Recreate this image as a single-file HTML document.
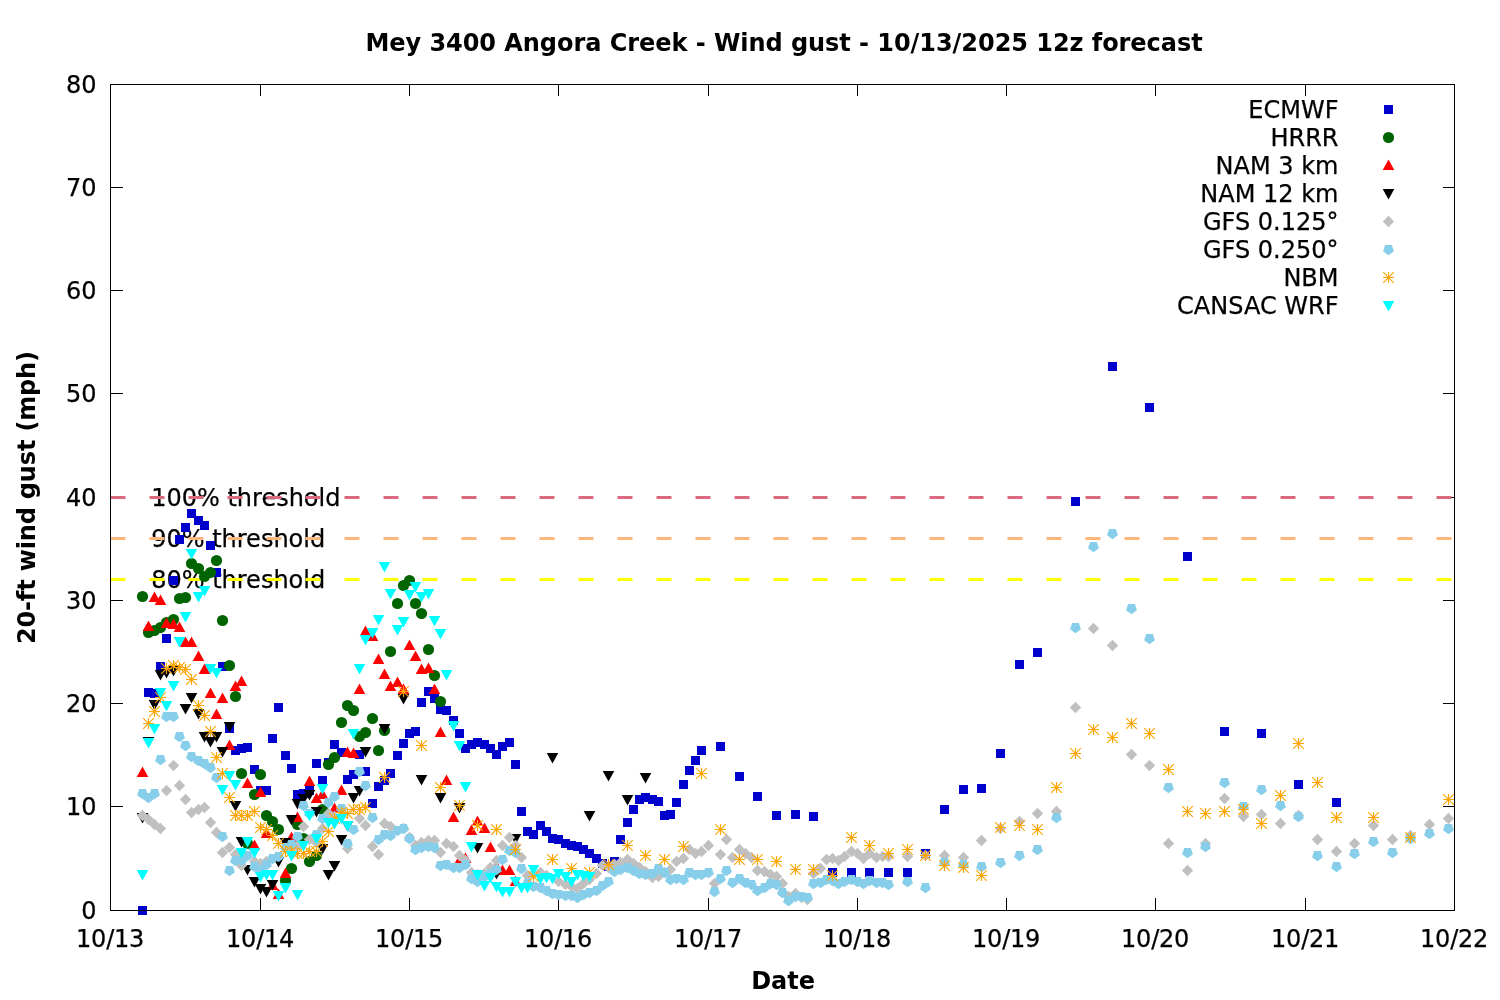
<!DOCTYPE html>
<html lang="en"><head><meta charset="utf-8"><title>Mey 3400 Angora Creek - Wind gust - 10/13/2025 12z forecast</title>
<style>html,body{margin:0;padding:0;background:#fff}body{width:1500px;height:1000px;overflow:hidden}svg{display:block}text{font-family:"DejaVu Sans","Liberation Sans",sans-serif;font-size:24px;fill:#000;stroke:#000;stroke-width:0.25px}.b{font-weight:bold;stroke:none}</style></head><body>
<svg width="1500" height="1000" viewBox="0 0 1500 1000">
<rect width="1500" height="1000" fill="#fff"/>
<text class="b" x="784" y="50.8" text-anchor="middle" letter-spacing="-0.05">Mey 3400 Angora Creek - Wind gust - 10/13/2025 12z forecast</text>
<text class="b" x="783.1" y="989" text-anchor="middle">Date</text>
<text class="b" transform="translate(35,497.6) rotate(-90)" text-anchor="middle" letter-spacing="-0.165">20-ft wind gust (mph)</text>
<text x="96.5" y="918.9" text-anchor="end">0</text>
<text x="96.5" y="814.9" text-anchor="end">10</text>
<text x="96.5" y="711.9" text-anchor="end">20</text>
<text x="96.5" y="608.9" text-anchor="end">30</text>
<text x="96.5" y="505.9" text-anchor="end">40</text>
<text x="96.5" y="401.9" text-anchor="end">50</text>
<text x="96.5" y="298.9" text-anchor="end">60</text>
<text x="96.5" y="195.9" text-anchor="end">70</text>
<text x="96.5" y="92.9" text-anchor="end">80</text>
<text x="110.1" y="947" text-anchor="middle" letter-spacing="-0.2">10/13</text>
<text x="260.1" y="947" text-anchor="middle" letter-spacing="-0.2">10/14</text>
<text x="409.1" y="947" text-anchor="middle" letter-spacing="-0.2">10/15</text>
<text x="558.1" y="947" text-anchor="middle" letter-spacing="-0.2">10/16</text>
<text x="708.1" y="947" text-anchor="middle" letter-spacing="-0.2">10/17</text>
<text x="857.1" y="947" text-anchor="middle" letter-spacing="-0.2">10/18</text>
<text x="1006.1" y="947" text-anchor="middle" letter-spacing="-0.2">10/19</text>
<text x="1155.1" y="947" text-anchor="middle" letter-spacing="-0.2">10/20</text>
<text x="1305.1" y="947" text-anchor="middle" letter-spacing="-0.2">10/21</text>
<text x="1454.1" y="947" text-anchor="middle" letter-spacing="-0.2">10/22</text>
<path d="M110.5 806.5h12.5M1454.5 806.5h-11.5M110.5 703.5h12.5M1454.5 703.5h-11.5M110.5 600.5h12.5M1454.5 600.5h-11.5M110.5 497.5h12.5M1454.5 497.5h-11.5M110.5 393.5h12.5M1454.5 393.5h-11.5M110.5 290.5h12.5M1454.5 290.5h-11.5M110.5 187.5h12.5M1454.5 187.5h-11.5M260.5 910.5v-12.5M260.5 84.5v11.5M409.5 910.5v-12.5M409.5 84.5v11.5M558.5 910.5v-12.5M558.5 84.5v11.5M708.5 910.5v-12.5M708.5 84.5v11.5M857.5 910.5v-12.5M857.5 84.5v11.5M1006.5 910.5v-12.5M1006.5 84.5v11.5M1155.5 910.5v-12.5M1155.5 84.5v11.5M1305.5 910.5v-12.5M1305.5 84.5v11.5" stroke="#000" stroke-width="1" fill="none"/>
<text x="151.2" y="505.5">100% threshold</text>
<text x="151.2" y="546.5">90% threshold</text>
<text x="151.2" y="587.5">80% threshold</text>
<path d="M110.5 497.5H1454.5" stroke="#db6a80" stroke-width="3" stroke-dasharray="15 24" fill="none"/>
<path d="M110.5 538.5H1454.5" stroke="#fdb77c" stroke-width="3" stroke-dasharray="15 24" fill="none"/>
<path d="M110.5 579.5H1454.5" stroke="#ffff00" stroke-width="3" stroke-dasharray="15 24" fill="none"/>
<g fill="#0000cd">
<rect x="138" y="906" width="9" height="9"/>
<rect x="144" y="688" width="9" height="9"/>
<rect x="150" y="689" width="9" height="9"/>
<rect x="156" y="662" width="9" height="9"/>
<rect x="162" y="634" width="9" height="9"/>
<rect x="169" y="576" width="9" height="9"/>
<rect x="175" y="535" width="9" height="9"/>
<rect x="181" y="523" width="9" height="9"/>
<rect x="187" y="509" width="9" height="9"/>
<rect x="194" y="516" width="9" height="9"/>
<rect x="200" y="521" width="9" height="9"/>
<rect x="206" y="541" width="9" height="9"/>
<rect x="212" y="568" width="9" height="9"/>
<rect x="218" y="662" width="9" height="9"/>
<rect x="225" y="724" width="9" height="9"/>
<rect x="231" y="746" width="9" height="9"/>
<rect x="237" y="744" width="9" height="9"/>
<rect x="243" y="743" width="9" height="9"/>
<rect x="250" y="765" width="9" height="9"/>
<rect x="256" y="786" width="9" height="9"/>
<rect x="262" y="786" width="9" height="9"/>
<rect x="268" y="734" width="9" height="9"/>
<rect x="274" y="703" width="9" height="9"/>
<rect x="281" y="751" width="9" height="9"/>
<rect x="287" y="764" width="9" height="9"/>
<rect x="293" y="790" width="9" height="9"/>
<rect x="299" y="789" width="9" height="9"/>
<rect x="305" y="786" width="9" height="9"/>
<rect x="312" y="759" width="9" height="9"/>
<rect x="318" y="776" width="9" height="9"/>
<rect x="324" y="758" width="9" height="9"/>
<rect x="330" y="740" width="9" height="9"/>
<rect x="337" y="748" width="9" height="9"/>
<rect x="343" y="775" width="9" height="9"/>
<rect x="349" y="770" width="9" height="9"/>
<rect x="355" y="750" width="9" height="9"/>
<rect x="361" y="767" width="9" height="9"/>
<rect x="368" y="799" width="9" height="9"/>
<rect x="374" y="782" width="9" height="9"/>
<rect x="380" y="776" width="9" height="9"/>
<rect x="386" y="769" width="9" height="9"/>
<rect x="393" y="751" width="9" height="9"/>
<rect x="399" y="739" width="9" height="9"/>
<rect x="405" y="729" width="9" height="9"/>
<rect x="411" y="727" width="9" height="9"/>
<rect x="417" y="698" width="9" height="9"/>
<rect x="424" y="687" width="9" height="9"/>
<rect x="430" y="694" width="9" height="9"/>
<rect x="436" y="705" width="9" height="9"/>
<rect x="442" y="706" width="9" height="9"/>
<rect x="449" y="716" width="9" height="9"/>
<rect x="455" y="729" width="9" height="9"/>
<rect x="461" y="744" width="9" height="9"/>
<rect x="467" y="740" width="9" height="9"/>
<rect x="473" y="738" width="9" height="9"/>
<rect x="480" y="740" width="9" height="9"/>
<rect x="486" y="744" width="9" height="9"/>
<rect x="492" y="750" width="9" height="9"/>
<rect x="498" y="742" width="9" height="9"/>
<rect x="505" y="738" width="9" height="9"/>
<rect x="511" y="760" width="9" height="9"/>
<rect x="517" y="807" width="9" height="9"/>
<rect x="523" y="827" width="9" height="9"/>
<rect x="529" y="830" width="9" height="9"/>
<rect x="536" y="821" width="9" height="9"/>
<rect x="542" y="827" width="9" height="9"/>
<rect x="548" y="834" width="9" height="9"/>
<rect x="554" y="835" width="9" height="9"/>
<rect x="561" y="839" width="9" height="9"/>
<rect x="567" y="841" width="9" height="9"/>
<rect x="573" y="842" width="9" height="9"/>
<rect x="579" y="845" width="9" height="9"/>
<rect x="585" y="849" width="9" height="9"/>
<rect x="592" y="854" width="9" height="9"/>
<rect x="598" y="859" width="9" height="9"/>
<rect x="604" y="862" width="9" height="9"/>
<rect x="610" y="857" width="9" height="9"/>
<rect x="616" y="835" width="9" height="9"/>
<rect x="623" y="818" width="9" height="9"/>
<rect x="629" y="805" width="9" height="9"/>
<rect x="635" y="795" width="9" height="9"/>
<rect x="641" y="793" width="9" height="9"/>
<rect x="648" y="795" width="9" height="9"/>
<rect x="654" y="797" width="9" height="9"/>
<rect x="660" y="811" width="9" height="9"/>
<rect x="666" y="810" width="9" height="9"/>
<rect x="672" y="798" width="9" height="9"/>
<rect x="679" y="780" width="9" height="9"/>
<rect x="685" y="766" width="9" height="9"/>
<rect x="691" y="756" width="9" height="9"/>
<rect x="697" y="746" width="9" height="9"/>
<rect x="716" y="742" width="9" height="9"/>
<rect x="735" y="772" width="9" height="9"/>
<rect x="753" y="792" width="9" height="9"/>
<rect x="772" y="811" width="9" height="9"/>
<rect x="791" y="810" width="9" height="9"/>
<rect x="809" y="812" width="9" height="9"/>
<rect x="828" y="868" width="9" height="9"/>
<rect x="847" y="868" width="9" height="9"/>
<rect x="865" y="868" width="9" height="9"/>
<rect x="884" y="868" width="9" height="9"/>
<rect x="903" y="868" width="9" height="9"/>
<rect x="921" y="849" width="9" height="9"/>
<rect x="940" y="805" width="9" height="9"/>
<rect x="959" y="785" width="9" height="9"/>
<rect x="977" y="784" width="9" height="9"/>
<rect x="996" y="749" width="9" height="9"/>
<rect x="1015" y="660" width="9" height="9"/>
<rect x="1033" y="648" width="9" height="9"/>
<rect x="1071" y="497" width="9" height="9"/>
<rect x="1108" y="362" width="9" height="9"/>
<rect x="1145" y="403" width="9" height="9"/>
<rect x="1183" y="552" width="9" height="9"/>
<rect x="1220" y="727" width="9" height="9"/>
<rect x="1257" y="729" width="9" height="9"/>
<rect x="1294" y="780" width="9" height="9"/>
<rect x="1332" y="798" width="9" height="9"/>
</g>
<g fill="#006400">
<circle cx="142.5" cy="596.5" r="5.6"/>
<circle cx="148.5" cy="632.5" r="5.6"/>
<circle cx="154.5" cy="630.5" r="5.6"/>
<circle cx="160.5" cy="627.5" r="5.6"/>
<circle cx="166.5" cy="622.5" r="5.6"/>
<circle cx="173.5" cy="619.5" r="5.6"/>
<circle cx="179.5" cy="598.5" r="5.6"/>
<circle cx="185.5" cy="597.5" r="5.6"/>
<circle cx="191.5" cy="563.5" r="5.6"/>
<circle cx="198.5" cy="568.5" r="5.6"/>
<circle cx="204.5" cy="576.5" r="5.6"/>
<circle cx="210.5" cy="572.5" r="5.6"/>
<circle cx="216.5" cy="560.5" r="5.6"/>
<circle cx="222.5" cy="620.5" r="5.6"/>
<circle cx="229.5" cy="665.5" r="5.6"/>
<circle cx="235.5" cy="696.5" r="5.6"/>
<circle cx="241.5" cy="773.5" r="5.6"/>
<circle cx="247.5" cy="843.5" r="5.6"/>
<circle cx="254.5" cy="794.5" r="5.6"/>
<circle cx="260.5" cy="774.5" r="5.6"/>
<circle cx="266.5" cy="815.5" r="5.6"/>
<circle cx="272.5" cy="821.5" r="5.6"/>
<circle cx="278.5" cy="829.5" r="5.6"/>
<circle cx="285.5" cy="880.5" r="5.6"/>
<circle cx="291.5" cy="868.5" r="5.6"/>
<circle cx="297.5" cy="824.5" r="5.6"/>
<circle cx="303.5" cy="838.5" r="5.6"/>
<circle cx="309.5" cy="861.5" r="5.6"/>
<circle cx="316.5" cy="855.5" r="5.6"/>
<circle cx="322.5" cy="809.5" r="5.6"/>
<circle cx="328.5" cy="764.5" r="5.6"/>
<circle cx="334.5" cy="757.5" r="5.6"/>
<circle cx="341.5" cy="722.5" r="5.6"/>
<circle cx="347.5" cy="705.5" r="5.6"/>
<circle cx="353.5" cy="710.5" r="5.6"/>
<circle cx="359.5" cy="736.5" r="5.6"/>
<circle cx="365.5" cy="732.5" r="5.6"/>
<circle cx="372.5" cy="718.5" r="5.6"/>
<circle cx="378.5" cy="750.5" r="5.6"/>
<circle cx="384.5" cy="730.5" r="5.6"/>
<circle cx="390.5" cy="651.5" r="5.6"/>
<circle cx="397.5" cy="603.5" r="5.6"/>
<circle cx="403.5" cy="585.5" r="5.6"/>
<circle cx="409.5" cy="580.5" r="5.6"/>
<circle cx="415.5" cy="603.5" r="5.6"/>
<circle cx="421.5" cy="613.5" r="5.6"/>
<circle cx="428.5" cy="649.5" r="5.6"/>
<circle cx="434.5" cy="675.5" r="5.6"/>
<circle cx="440.5" cy="701.5" r="5.6"/>
</g>
<g fill="#ff0000">
<path d="M136.7 777L142.5 766.5L148.3 777Z"/>
<path d="M142.7 631L148.5 620.5L154.3 631Z"/>
<path d="M148.7 602L154.5 591.5L160.3 602Z"/>
<path d="M154.7 605L160.5 594.5L166.3 605Z"/>
<path d="M160.7 628L166.5 617.5L172.3 628Z"/>
<path d="M167.7 629L173.5 618.5L179.3 629Z"/>
<path d="M173.7 632L179.5 621.5L185.3 632Z"/>
<path d="M179.7 647L185.5 636.5L191.3 647Z"/>
<path d="M185.7 647L191.5 636.5L197.3 647Z"/>
<path d="M192.7 661L198.5 650.5L204.3 661Z"/>
<path d="M198.7 674L204.5 663.5L210.3 674Z"/>
<path d="M204.7 698L210.5 687.5L216.3 698Z"/>
<path d="M210.7 719L216.5 708.5L222.3 719Z"/>
<path d="M216.7 703L222.5 692.5L228.3 703Z"/>
<path d="M223.7 750L229.5 739.5L235.3 750Z"/>
<path d="M229.7 691L235.5 680.5L241.3 691Z"/>
<path d="M235.7 686L241.5 675.5L247.3 686Z"/>
<path d="M241.7 788L247.5 777.5L253.3 788Z"/>
<path d="M248.7 850L254.5 839.5L260.3 850Z"/>
<path d="M254.7 797L260.5 786.5L266.3 797Z"/>
<path d="M260.7 838L266.5 827.5L272.3 838Z"/>
<path d="M266.7 890L272.5 879.5L278.3 890Z"/>
<path d="M272.7 899L278.5 888.5L284.3 899Z"/>
<path d="M279.7 878L285.5 867.5L291.3 878Z"/>
<path d="M285.7 842L291.5 831.5L297.3 842Z"/>
<path d="M291.7 822L297.5 811.5L303.3 822Z"/>
<path d="M303.7 786L309.5 775.5L315.3 786Z"/>
<path d="M310.7 803L316.5 792.5L322.3 803Z"/>
<path d="M316.7 799L322.5 788.5L328.3 799Z"/>
<path d="M322.7 820L328.5 809.5L334.3 820Z"/>
<path d="M328.7 813L334.5 802.5L340.3 813Z"/>
<path d="M335.7 795L341.5 784.5L347.3 795Z"/>
<path d="M341.7 757L347.5 746.5L353.3 757Z"/>
<path d="M347.7 758L353.5 747.5L359.3 758Z"/>
<path d="M353.7 694L359.5 683.5L365.3 694Z"/>
<path d="M359.7 636L365.5 625.5L371.3 636Z"/>
<path d="M366.7 641L372.5 630.5L378.3 641Z"/>
<path d="M372.7 664L378.5 653.5L384.3 664Z"/>
<path d="M378.7 679L384.5 668.5L390.3 679Z"/>
<path d="M384.7 691L390.5 680.5L396.3 691Z"/>
<path d="M391.7 687L397.5 676.5L403.3 687Z"/>
<path d="M397.7 694L403.5 683.5L409.3 694Z"/>
<path d="M403.7 650L409.5 639.5L415.3 650Z"/>
<path d="M409.7 661L415.5 650.5L421.3 661Z"/>
<path d="M415.7 674L421.5 663.5L427.3 674Z"/>
<path d="M422.7 673L428.5 662.5L434.3 673Z"/>
<path d="M428.7 694L434.5 683.5L440.3 694Z"/>
<path d="M434.7 737L440.5 726.5L446.3 737Z"/>
<path d="M440.7 785L446.5 774.5L452.3 785Z"/>
<path d="M447.7 822L453.5 811.5L459.3 822Z"/>
<path d="M453.7 865L459.5 854.5L465.3 865Z"/>
<path d="M459.7 863L465.5 852.5L471.3 863Z"/>
<path d="M465.7 835L471.5 824.5L477.3 835Z"/>
<path d="M471.7 826L477.5 815.5L483.3 826Z"/>
<path d="M478.7 833L484.5 822.5L490.3 833Z"/>
<path d="M484.7 852L490.5 841.5L496.3 852Z"/>
<path d="M490.7 871L496.5 860.5L502.3 871Z"/>
<path d="M496.7 875L502.5 864.5L508.3 875Z"/>
<path d="M503.7 875L509.5 864.5L515.3 875Z"/>
<path d="M509.7 886L515.5 875.5L521.3 886Z"/>
</g>
<g fill="#000000">
<path d="M136.7 813L142.5 823.5L148.3 813Z"/>
<path d="M142.7 737L148.5 747.5L154.3 737Z"/>
<path d="M148.7 700L154.5 710.5L160.3 700Z"/>
<path d="M154.7 670L160.5 680.5L166.3 670Z"/>
<path d="M160.7 668L166.5 678.5L172.3 668Z"/>
<path d="M167.7 666L173.5 676.5L179.3 666Z"/>
<path d="M179.7 704L185.5 714.5L191.3 704Z"/>
<path d="M185.7 693L191.5 703.5L197.3 693Z"/>
<path d="M192.7 709L198.5 719.5L204.3 709Z"/>
<path d="M198.7 732L204.5 742.5L210.3 732Z"/>
<path d="M204.7 737L210.5 747.5L216.3 737Z"/>
<path d="M210.7 732L216.5 742.5L222.3 732Z"/>
<path d="M216.7 747L222.5 757.5L228.3 747Z"/>
<path d="M223.7 722L229.5 732.5L235.3 722Z"/>
<path d="M229.7 801L235.5 811.5L241.3 801Z"/>
<path d="M235.7 837L241.5 847.5L247.3 837Z"/>
<path d="M241.7 865L247.5 875.5L253.3 865Z"/>
<path d="M248.7 877L254.5 887.5L260.3 877Z"/>
<path d="M254.7 884L260.5 894.5L266.3 884Z"/>
<path d="M260.7 887L266.5 897.5L272.3 887Z"/>
<path d="M266.7 880L272.5 890.5L278.3 880Z"/>
<path d="M272.7 857L278.5 867.5L284.3 857Z"/>
<path d="M279.7 838L285.5 848.5L291.3 838Z"/>
<path d="M285.7 815L291.5 825.5L297.3 815Z"/>
<path d="M291.7 799L297.5 809.5L303.3 799Z"/>
<path d="M297.7 794L303.5 804.5L309.3 794Z"/>
<path d="M303.7 790L309.5 800.5L315.3 790Z"/>
<path d="M310.7 807L316.5 817.5L322.3 807Z"/>
<path d="M316.7 844L322.5 854.5L328.3 844Z"/>
<path d="M322.7 870L328.5 880.5L334.3 870Z"/>
<path d="M328.7 861L334.5 871.5L340.3 861Z"/>
<path d="M335.7 835L341.5 845.5L347.3 835Z"/>
<path d="M341.7 821L347.5 831.5L353.3 821Z"/>
<path d="M347.7 793L353.5 803.5L359.3 793Z"/>
<path d="M353.7 786L359.5 796.5L365.3 786Z"/>
<path d="M359.7 747L365.5 757.5L371.3 747Z"/>
<path d="M378.7 724L384.5 734.5L390.3 724Z"/>
<path d="M397.7 694L403.5 704.5L409.3 694Z"/>
<path d="M415.7 775L421.5 785.5L427.3 775Z"/>
<path d="M434.7 793L440.5 803.5L446.3 793Z"/>
<path d="M453.7 803L459.5 813.5L465.3 803Z"/>
<path d="M471.7 843L477.5 853.5L483.3 843Z"/>
<path d="M490.7 869L496.5 879.5L502.3 869Z"/>
<path d="M509.7 834L515.5 844.5L521.3 834Z"/>
<path d="M546.7 753L552.5 763.5L558.3 753Z"/>
<path d="M583.7 811L589.5 821.5L595.3 811Z"/>
<path d="M602.7 771L608.5 781.5L614.3 771Z"/>
<path d="M621.7 795L627.5 805.5L633.3 795Z"/>
<path d="M639.7 773L645.5 783.5L651.3 773Z"/>
</g>
<g fill="#c0c0c0">
<path d="M136.85 815.5L142.5 809.85L148.15 815.5L142.5 821.15Z"/>
<path d="M142.85 819.5L148.5 813.85L154.15 819.5L148.5 825.15Z"/>
<path d="M148.85 824.5L154.5 818.85L160.15 824.5L154.5 830.15Z"/>
<path d="M154.85 828.5L160.5 822.85L166.15 828.5L160.5 834.15Z"/>
<path d="M160.85 790.5L166.5 784.85L172.15 790.5L166.5 796.15Z"/>
<path d="M167.85 765.5L173.5 759.85L179.15 765.5L173.5 771.15Z"/>
<path d="M173.85 785.5L179.5 779.85L185.15 785.5L179.5 791.15Z"/>
<path d="M179.85 799.5L185.5 793.85L191.15 799.5L185.5 805.15Z"/>
<path d="M185.85 812.5L191.5 806.85L197.15 812.5L191.5 818.15Z"/>
<path d="M192.85 809.5L198.5 803.85L204.15 809.5L198.5 815.15Z"/>
<path d="M198.85 807.5L204.5 801.85L210.15 807.5L204.5 813.15Z"/>
<path d="M204.85 822.5L210.5 816.85L216.15 822.5L210.5 828.15Z"/>
<path d="M210.85 832.5L216.5 826.85L222.15 832.5L216.5 838.15Z"/>
<path d="M216.85 852.5L222.5 846.85L228.15 852.5L222.5 858.15Z"/>
<path d="M223.85 847.5L229.5 841.85L235.15 847.5L229.5 853.15Z"/>
<path d="M229.85 854.5L235.5 848.85L241.15 854.5L235.5 860.15Z"/>
<path d="M235.85 865.5L241.5 859.85L247.15 865.5L241.5 871.15Z"/>
<path d="M248.85 861.5L254.5 855.85L260.15 861.5L254.5 867.15Z"/>
<path d="M254.85 863.5L260.5 857.85L266.15 863.5L260.5 869.15Z"/>
<path d="M260.85 861.5L266.5 855.85L272.15 861.5L266.5 867.15Z"/>
<path d="M291.85 846.5L297.5 840.85L303.15 846.5L297.5 852.15Z"/>
<path d="M297.85 826.5L303.5 820.85L309.15 826.5L303.5 832.15Z"/>
<path d="M303.85 839.5L309.5 833.85L315.15 839.5L309.5 845.15Z"/>
<path d="M310.85 842.5L316.5 836.85L322.15 842.5L316.5 848.15Z"/>
<path d="M316.85 828.5L322.5 822.85L328.15 828.5L322.5 834.15Z"/>
<path d="M322.85 813.5L328.5 807.85L334.15 813.5L328.5 819.15Z"/>
<path d="M328.85 816.5L334.5 810.85L340.15 816.5L334.5 822.15Z"/>
<path d="M341.85 848.5L347.5 842.85L353.15 848.5L347.5 854.15Z"/>
<path d="M353.85 818.5L359.5 812.85L365.15 818.5L359.5 824.15Z"/>
<path d="M359.85 825.5L365.5 819.85L371.15 825.5L365.5 831.15Z"/>
<path d="M366.85 846.5L372.5 840.85L378.15 846.5L372.5 852.15Z"/>
<path d="M372.85 854.5L378.5 848.85L384.15 854.5L378.5 860.15Z"/>
<path d="M378.85 823.5L384.5 817.85L390.15 823.5L384.5 829.15Z"/>
<path d="M384.85 826.5L390.5 820.85L396.15 826.5L390.5 832.15Z"/>
<path d="M397.85 828.5L403.5 822.85L409.15 828.5L403.5 834.15Z"/>
<path d="M403.85 837.5L409.5 831.85L415.15 837.5L409.5 843.15Z"/>
<path d="M409.85 845.5L415.5 839.85L421.15 845.5L415.5 851.15Z"/>
<path d="M415.85 842.5L421.5 836.85L427.15 842.5L421.5 848.15Z"/>
<path d="M422.85 840.5L428.5 834.85L434.15 840.5L428.5 846.15Z"/>
<path d="M428.85 840.5L434.5 834.85L440.15 840.5L434.5 846.15Z"/>
<path d="M434.85 852.5L440.5 846.85L446.15 852.5L440.5 858.15Z"/>
<path d="M440.85 843.5L446.5 837.85L452.15 843.5L446.5 849.15Z"/>
<path d="M447.85 846.5L453.5 840.85L459.15 846.5L453.5 852.15Z"/>
<path d="M453.85 855.5L459.5 849.85L465.15 855.5L459.5 861.15Z"/>
<path d="M459.85 860.5L465.5 854.85L471.15 860.5L465.5 866.15Z"/>
<path d="M465.85 872.5L471.5 866.85L477.15 872.5L471.5 878.15Z"/>
<path d="M471.85 874.5L477.5 868.85L483.15 874.5L477.5 880.15Z"/>
<path d="M478.85 873.5L484.5 867.85L490.15 873.5L484.5 879.15Z"/>
<path d="M484.85 867.5L490.5 861.85L496.15 867.5L490.5 873.15Z"/>
<path d="M490.85 860.5L496.5 854.85L502.15 860.5L496.5 866.15Z"/>
<path d="M496.85 845.5L502.5 839.85L508.15 845.5L502.5 851.15Z"/>
<path d="M503.85 837.5L509.5 831.85L515.15 837.5L509.5 843.15Z"/>
<path d="M509.85 845.5L515.5 839.85L521.15 845.5L515.5 851.15Z"/>
<path d="M515.85 857.5L521.5 851.85L527.15 857.5L521.5 863.15Z"/>
<path d="M521.85 875.5L527.5 869.85L533.15 875.5L527.5 881.15Z"/>
<path d="M527.85 873.5L533.5 867.85L539.15 873.5L533.5 879.15Z"/>
<path d="M534.85 872.5L540.5 866.85L546.15 872.5L540.5 878.15Z"/>
<path d="M540.85 875.5L546.5 869.85L552.15 875.5L546.5 881.15Z"/>
<path d="M552.85 881.5L558.5 875.85L564.15 881.5L558.5 887.15Z"/>
<path d="M559.85 884.5L565.5 878.85L571.15 884.5L565.5 890.15Z"/>
<path d="M565.85 886.5L571.5 880.85L577.15 886.5L571.5 892.15Z"/>
<path d="M571.85 888.5L577.5 882.85L583.15 888.5L577.5 894.15Z"/>
<path d="M577.85 883.5L583.5 877.85L589.15 883.5L583.5 889.15Z"/>
<path d="M583.85 879.5L589.5 873.85L595.15 879.5L589.5 885.15Z"/>
<path d="M590.85 873.5L596.5 867.85L602.15 873.5L596.5 879.15Z"/>
<path d="M596.85 865.5L602.5 859.85L608.15 865.5L602.5 871.15Z"/>
<path d="M602.85 867.5L608.5 861.85L614.15 867.5L608.5 873.15Z"/>
<path d="M608.85 864.5L614.5 858.85L620.15 864.5L614.5 870.15Z"/>
<path d="M614.85 862.5L620.5 856.85L626.15 862.5L620.5 868.15Z"/>
<path d="M621.85 859.5L627.5 853.85L633.15 859.5L627.5 865.15Z"/>
<path d="M627.85 863.5L633.5 857.85L639.15 863.5L633.5 869.15Z"/>
<path d="M633.85 867.5L639.5 861.85L645.15 867.5L639.5 873.15Z"/>
<path d="M639.85 871.5L645.5 865.85L651.15 871.5L645.5 877.15Z"/>
<path d="M646.85 877.5L652.5 871.85L658.15 877.5L652.5 883.15Z"/>
<path d="M652.85 876.5L658.5 870.85L664.15 876.5L658.5 882.15Z"/>
<path d="M658.85 872.5L664.5 866.85L670.15 872.5L664.5 878.15Z"/>
<path d="M664.85 869.5L670.5 863.85L676.15 869.5L670.5 875.15Z"/>
<path d="M670.85 861.5L676.5 855.85L682.15 861.5L676.5 867.15Z"/>
<path d="M677.85 858.5L683.5 852.85L689.15 858.5L683.5 864.15Z"/>
<path d="M683.85 849.5L689.5 843.85L695.15 849.5L689.5 855.15Z"/>
<path d="M689.85 853.5L695.5 847.85L701.15 853.5L695.5 859.15Z"/>
<path d="M695.85 851.5L701.5 845.85L707.15 851.5L701.5 857.15Z"/>
<path d="M702.85 845.5L708.5 839.85L714.15 845.5L708.5 851.15Z"/>
<path d="M708.85 883.5L714.5 877.85L720.15 883.5L714.5 889.15Z"/>
<path d="M714.85 854.5L720.5 848.85L726.15 854.5L720.5 860.15Z"/>
<path d="M720.85 839.5L726.5 833.85L732.15 839.5L726.5 845.15Z"/>
<path d="M726.85 857.5L732.5 851.85L738.15 857.5L732.5 863.15Z"/>
<path d="M733.85 849.5L739.5 843.85L745.15 849.5L739.5 855.15Z"/>
<path d="M739.85 853.5L745.5 847.85L751.15 853.5L745.5 859.15Z"/>
<path d="M745.85 857.5L751.5 851.85L757.15 857.5L751.5 863.15Z"/>
<path d="M751.85 870.5L757.5 864.85L763.15 870.5L757.5 876.15Z"/>
<path d="M758.85 871.5L764.5 865.85L770.15 871.5L764.5 877.15Z"/>
<path d="M764.85 874.5L770.5 868.85L776.15 874.5L770.5 880.15Z"/>
<path d="M770.85 876.5L776.5 870.85L782.15 876.5L776.5 882.15Z"/>
<path d="M776.85 883.5L782.5 877.85L788.15 883.5L782.5 889.15Z"/>
<path d="M782.85 896.5L788.5 890.85L794.15 896.5L788.5 902.15Z"/>
<path d="M789.85 893.5L795.5 887.85L801.15 893.5L795.5 899.15Z"/>
<path d="M795.85 897.5L801.5 891.85L807.15 897.5L801.5 903.15Z"/>
<path d="M801.85 899.5L807.5 893.85L813.15 899.5L807.5 905.15Z"/>
<path d="M807.85 873.5L813.5 867.85L819.15 873.5L813.5 879.15Z"/>
<path d="M814.85 868.5L820.5 862.85L826.15 868.5L820.5 874.15Z"/>
<path d="M820.85 859.5L826.5 853.85L832.15 859.5L826.5 865.15Z"/>
<path d="M826.85 858.5L832.5 852.85L838.15 858.5L832.5 864.15Z"/>
<path d="M832.85 860.5L838.5 854.85L844.15 860.5L838.5 866.15Z"/>
<path d="M838.85 856.5L844.5 850.85L850.15 856.5L844.5 862.15Z"/>
<path d="M845.85 851.5L851.5 845.85L857.15 851.5L851.5 857.15Z"/>
<path d="M851.85 853.5L857.5 847.85L863.15 853.5L857.5 859.15Z"/>
<path d="M857.85 858.5L863.5 852.85L869.15 858.5L863.5 864.15Z"/>
<path d="M863.85 853.5L869.5 847.85L875.15 853.5L869.5 859.15Z"/>
<path d="M870.85 857.5L876.5 851.85L882.15 857.5L876.5 863.15Z"/>
<path d="M876.85 856.5L882.5 850.85L888.15 856.5L882.5 862.15Z"/>
<path d="M882.85 856.5L888.5 850.85L894.15 856.5L888.5 862.15Z"/>
<path d="M901.85 856.5L907.5 850.85L913.15 856.5L907.5 862.15Z"/>
<path d="M919.85 855.5L925.5 849.85L931.15 855.5L925.5 861.15Z"/>
<path d="M938.85 855.5L944.5 849.85L950.15 855.5L944.5 861.15Z"/>
<path d="M957.85 857.5L963.5 851.85L969.15 857.5L963.5 863.15Z"/>
<path d="M975.85 840.5L981.5 834.85L987.15 840.5L981.5 846.15Z"/>
<path d="M994.85 828.5L1000.5 822.85L1006.15 828.5L1000.5 834.15Z"/>
<path d="M1013.85 821.5L1019.5 815.85L1025.15 821.5L1019.5 827.15Z"/>
<path d="M1031.85 813.5L1037.5 807.85L1043.15 813.5L1037.5 819.15Z"/>
<path d="M1050.85 811.5L1056.5 805.85L1062.15 811.5L1056.5 817.15Z"/>
<path d="M1069.85 707.5L1075.5 701.85L1081.15 707.5L1075.5 713.15Z"/>
<path d="M1087.85 628.5L1093.5 622.85L1099.15 628.5L1093.5 634.15Z"/>
<path d="M1106.85 645.5L1112.5 639.85L1118.15 645.5L1112.5 651.15Z"/>
<path d="M1125.85 754.5L1131.5 748.85L1137.15 754.5L1131.5 760.15Z"/>
<path d="M1143.85 765.5L1149.5 759.85L1155.15 765.5L1149.5 771.15Z"/>
<path d="M1162.85 843.5L1168.5 837.85L1174.15 843.5L1168.5 849.15Z"/>
<path d="M1181.85 870.5L1187.5 864.85L1193.15 870.5L1187.5 876.15Z"/>
<path d="M1199.85 843.5L1205.5 837.85L1211.15 843.5L1205.5 849.15Z"/>
<path d="M1218.85 798.5L1224.5 792.85L1230.15 798.5L1224.5 804.15Z"/>
<path d="M1237.85 816.5L1243.5 810.85L1249.15 816.5L1243.5 822.15Z"/>
<path d="M1255.85 814.5L1261.5 808.85L1267.15 814.5L1261.5 820.15Z"/>
<path d="M1274.85 823.5L1280.5 817.85L1286.15 823.5L1280.5 829.15Z"/>
<path d="M1292.85 815.5L1298.5 809.85L1304.15 815.5L1298.5 821.15Z"/>
<path d="M1311.85 839.5L1317.5 833.85L1323.15 839.5L1317.5 845.15Z"/>
<path d="M1330.85 851.5L1336.5 845.85L1342.15 851.5L1336.5 857.15Z"/>
<path d="M1348.85 843.5L1354.5 837.85L1360.15 843.5L1354.5 849.15Z"/>
<path d="M1367.85 825.5L1373.5 819.85L1379.15 825.5L1373.5 831.15Z"/>
<path d="M1386.85 839.5L1392.5 833.85L1398.15 839.5L1392.5 845.15Z"/>
<path d="M1404.85 835.5L1410.5 829.85L1416.15 835.5L1410.5 841.15Z"/>
<path d="M1423.85 824.5L1429.5 818.85L1435.15 824.5L1429.5 830.15Z"/>
<path d="M1442.85 818.5L1448.5 812.85L1454.15 818.5L1448.5 824.15Z"/>
</g>
<g fill="#87ceeb">
<path d="M142.5 799.2L137.08 795.26L139.15 788.89L145.85 788.89L147.92 795.26Z"/>
<path d="M148.5 803.2L143.08 799.26L145.15 792.89L151.85 792.89L153.92 799.26Z"/>
<path d="M154.5 799.2L149.08 795.26L151.15 788.89L157.85 788.89L159.92 795.26Z"/>
<path d="M160.5 765.2L155.08 761.26L157.15 754.89L163.85 754.89L165.92 761.26Z"/>
<path d="M166.5 722.2L161.08 718.26L163.15 711.89L169.85 711.89L171.92 718.26Z"/>
<path d="M173.5 722.2L168.08 718.26L170.15 711.89L176.85 711.89L178.92 718.26Z"/>
<path d="M179.5 742.2L174.08 738.26L176.15 731.89L182.85 731.89L184.92 738.26Z"/>
<path d="M185.5 751.2L180.08 747.26L182.15 740.89L188.85 740.89L190.92 747.26Z"/>
<path d="M191.5 762.2L186.08 758.26L188.15 751.89L194.85 751.89L196.92 758.26Z"/>
<path d="M198.5 766.2L193.08 762.26L195.15 755.89L201.85 755.89L203.92 762.26Z"/>
<path d="M204.5 769.2L199.08 765.26L201.15 758.89L207.85 758.89L209.92 765.26Z"/>
<path d="M210.5 773.2L205.08 769.26L207.15 762.89L213.85 762.89L215.92 769.26Z"/>
<path d="M216.5 783.2L211.08 779.26L213.15 772.89L219.85 772.89L221.92 779.26Z"/>
<path d="M222.5 842.2L217.08 838.26L219.15 831.89L225.85 831.89L227.92 838.26Z"/>
<path d="M229.5 876.2L224.08 872.26L226.15 865.89L232.85 865.89L234.92 872.26Z"/>
<path d="M235.5 866.2L230.08 862.26L232.15 855.89L238.85 855.89L240.92 862.26Z"/>
<path d="M241.5 866.2L236.08 862.26L238.15 855.89L244.85 855.89L246.92 862.26Z"/>
<path d="M247.5 861.2L242.08 857.26L244.15 850.89L250.85 850.89L252.92 857.26Z"/>
<path d="M254.5 872.2L249.08 868.26L251.15 861.89L257.85 861.89L259.92 868.26Z"/>
<path d="M260.5 875.2L255.08 871.26L257.15 864.89L263.85 864.89L265.92 871.26Z"/>
<path d="M266.5 870.2L261.08 866.26L263.15 859.89L269.85 859.89L271.92 866.26Z"/>
<path d="M272.5 864.2L267.08 860.26L269.15 853.89L275.85 853.89L277.92 860.26Z"/>
<path d="M278.5 862.2L273.08 858.26L275.15 851.89L281.85 851.89L283.92 858.26Z"/>
<path d="M285.5 853.2L280.08 849.26L282.15 842.89L288.85 842.89L290.92 849.26Z"/>
<path d="M291.5 850.2L286.08 846.26L288.15 839.89L294.85 839.89L296.92 846.26Z"/>
<path d="M297.5 842.2L292.08 838.26L294.15 831.89L300.85 831.89L302.92 838.26Z"/>
<path d="M303.5 811.2L298.08 807.26L300.15 800.89L306.85 800.89L308.92 807.26Z"/>
<path d="M309.5 819.2L304.08 815.26L306.15 808.89L312.85 808.89L314.92 815.26Z"/>
<path d="M316.5 840.2L311.08 836.26L313.15 829.89L319.85 829.89L321.92 836.26Z"/>
<path d="M322.5 824.2L317.08 820.26L319.15 813.89L325.85 813.89L327.92 820.26Z"/>
<path d="M328.5 808.2L323.08 804.26L325.15 797.89L331.85 797.89L333.92 804.26Z"/>
<path d="M334.5 802.2L329.08 798.26L331.15 791.89L337.85 791.89L339.92 798.26Z"/>
<path d="M341.5 814.2L336.08 810.26L338.15 803.89L344.85 803.89L346.92 810.26Z"/>
<path d="M347.5 849.2L342.08 845.26L344.15 838.89L350.85 838.89L352.92 845.26Z"/>
<path d="M353.5 835.2L348.08 831.26L350.15 824.89L356.85 824.89L358.92 831.26Z"/>
<path d="M359.5 777.2L354.08 773.26L356.15 766.89L362.85 766.89L364.92 773.26Z"/>
<path d="M365.5 791.2L360.08 787.26L362.15 780.89L368.85 780.89L370.92 787.26Z"/>
<path d="M372.5 823.2L367.08 819.26L369.15 812.89L375.85 812.89L377.92 819.26Z"/>
<path d="M378.5 845.2L373.08 841.26L375.15 834.89L381.85 834.89L383.92 841.26Z"/>
<path d="M384.5 840.2L379.08 836.26L381.15 829.89L387.85 829.89L389.92 836.26Z"/>
<path d="M390.5 841.2L385.08 837.26L387.15 830.89L393.85 830.89L395.92 837.26Z"/>
<path d="M397.5 836.2L392.08 832.26L394.15 825.89L400.85 825.89L402.92 832.26Z"/>
<path d="M403.5 834.2L398.08 830.26L400.15 823.89L406.85 823.89L408.92 830.26Z"/>
<path d="M409.5 844.2L404.08 840.26L406.15 833.89L412.85 833.89L414.92 840.26Z"/>
<path d="M415.5 855.2L410.08 851.26L412.15 844.89L418.85 844.89L420.92 851.26Z"/>
<path d="M421.5 853.2L416.08 849.26L418.15 842.89L424.85 842.89L426.92 849.26Z"/>
<path d="M428.5 852.2L423.08 848.26L425.15 841.89L431.85 841.89L433.92 848.26Z"/>
<path d="M434.5 853.2L429.08 849.26L431.15 842.89L437.85 842.89L439.92 849.26Z"/>
<path d="M440.5 871.2L435.08 867.26L437.15 860.89L443.85 860.89L445.92 867.26Z"/>
<path d="M446.5 870.2L441.08 866.26L443.15 859.89L449.85 859.89L451.92 866.26Z"/>
<path d="M453.5 873.2L448.08 869.26L450.15 862.89L456.85 862.89L458.92 869.26Z"/>
<path d="M459.5 873.2L454.08 869.26L456.15 862.89L462.85 862.89L464.92 869.26Z"/>
<path d="M465.5 870.2L460.08 866.26L462.15 859.89L468.85 859.89L470.92 866.26Z"/>
<path d="M471.5 884.2L466.08 880.26L468.15 873.89L474.85 873.89L476.92 880.26Z"/>
<path d="M477.5 887.2L472.08 883.26L474.15 876.89L480.85 876.89L482.92 883.26Z"/>
<path d="M484.5 882.2L479.08 878.26L481.15 871.89L487.85 871.89L489.92 878.26Z"/>
<path d="M490.5 879.2L485.08 875.26L487.15 868.89L493.85 868.89L495.92 875.26Z"/>
<path d="M496.5 875.2L491.08 871.26L493.15 864.89L499.85 864.89L501.92 871.26Z"/>
<path d="M502.5 865.2L497.08 861.26L499.15 854.89L505.85 854.89L507.92 861.26Z"/>
<path d="M509.5 856.2L504.08 852.26L506.15 845.89L512.85 845.89L514.92 852.26Z"/>
<path d="M515.5 858.2L510.08 854.26L512.15 847.89L518.85 847.89L520.92 854.26Z"/>
<path d="M521.5 874.2L516.08 870.26L518.15 863.89L524.85 863.89L526.92 870.26Z"/>
<path d="M527.5 889.2L522.08 885.26L524.15 878.89L530.85 878.89L532.92 885.26Z"/>
<path d="M533.5 892.2L528.08 888.26L530.15 881.89L536.85 881.89L538.92 888.26Z"/>
<path d="M540.5 893.2L535.08 889.26L537.15 882.89L543.85 882.89L545.92 889.26Z"/>
<path d="M546.5 896.2L541.08 892.26L543.15 885.89L549.85 885.89L551.92 892.26Z"/>
<path d="M552.5 899.2L547.08 895.26L549.15 888.89L555.85 888.89L557.92 895.26Z"/>
<path d="M558.5 900.2L553.08 896.26L555.15 889.89L561.85 889.89L563.92 896.26Z"/>
<path d="M565.5 901.2L560.08 897.26L562.15 890.89L568.85 890.89L570.92 897.26Z"/>
<path d="M571.5 901.2L566.08 897.26L568.15 890.89L574.85 890.89L576.92 897.26Z"/>
<path d="M577.5 903.2L572.08 899.26L574.15 892.89L580.85 892.89L582.92 899.26Z"/>
<path d="M583.5 900.2L578.08 896.26L580.15 889.89L586.85 889.89L588.92 896.26Z"/>
<path d="M589.5 898.2L584.08 894.26L586.15 887.89L592.85 887.89L594.92 894.26Z"/>
<path d="M596.5 896.2L591.08 892.26L593.15 885.89L599.85 885.89L601.92 892.26Z"/>
<path d="M602.5 891.2L597.08 887.26L599.15 880.89L605.85 880.89L607.92 887.26Z"/>
<path d="M608.5 887.2L603.08 883.26L605.15 876.89L611.85 876.89L613.92 883.26Z"/>
<path d="M614.5 877.2L609.08 873.26L611.15 866.89L617.85 866.89L619.92 873.26Z"/>
<path d="M620.5 875.2L615.08 871.26L617.15 864.89L623.85 864.89L625.92 871.26Z"/>
<path d="M627.5 873.2L622.08 869.26L624.15 862.89L630.85 862.89L632.92 869.26Z"/>
<path d="M633.5 876.2L628.08 872.26L630.15 865.89L636.85 865.89L638.92 872.26Z"/>
<path d="M639.5 879.2L634.08 875.26L636.15 868.89L642.85 868.89L644.92 875.26Z"/>
<path d="M645.5 880.2L640.08 876.26L642.15 869.89L648.85 869.89L650.92 876.26Z"/>
<path d="M652.5 879.2L647.08 875.26L649.15 868.89L655.85 868.89L657.92 875.26Z"/>
<path d="M658.5 874.2L653.08 870.26L655.15 863.89L661.85 863.89L663.92 870.26Z"/>
<path d="M664.5 878.2L659.08 874.26L661.15 867.89L667.85 867.89L669.92 874.26Z"/>
<path d="M670.5 885.2L665.08 881.26L667.15 874.89L673.85 874.89L675.92 881.26Z"/>
<path d="M676.5 884.2L671.08 880.26L673.15 873.89L679.85 873.89L681.92 880.26Z"/>
<path d="M683.5 885.2L678.08 881.26L680.15 874.89L686.85 874.89L688.92 881.26Z"/>
<path d="M689.5 878.2L684.08 874.26L686.15 867.89L692.85 867.89L694.92 874.26Z"/>
<path d="M695.5 880.2L690.08 876.26L692.15 869.89L698.85 869.89L700.92 876.26Z"/>
<path d="M701.5 880.2L696.08 876.26L698.15 869.89L704.85 869.89L706.92 876.26Z"/>
<path d="M708.5 878.2L703.08 874.26L705.15 867.89L711.85 867.89L713.92 874.26Z"/>
<path d="M714.5 897.2L709.08 893.26L711.15 886.89L717.85 886.89L719.92 893.26Z"/>
<path d="M720.5 884.2L715.08 880.26L717.15 873.89L723.85 873.89L725.92 880.26Z"/>
<path d="M726.5 876.2L721.08 872.26L723.15 865.89L729.85 865.89L731.92 872.26Z"/>
<path d="M732.5 888.2L727.08 884.26L729.15 877.89L735.85 877.89L737.92 884.26Z"/>
<path d="M739.5 884.2L734.08 880.26L736.15 873.89L742.85 873.89L744.92 880.26Z"/>
<path d="M745.5 888.2L740.08 884.26L742.15 877.89L748.85 877.89L750.92 884.26Z"/>
<path d="M751.5 890.2L746.08 886.26L748.15 879.89L754.85 879.89L756.92 886.26Z"/>
<path d="M757.5 896.2L752.08 892.26L754.15 885.89L760.85 885.89L762.92 892.26Z"/>
<path d="M764.5 893.2L759.08 889.26L761.15 882.89L767.85 882.89L769.92 889.26Z"/>
<path d="M770.5 889.2L765.08 885.26L767.15 878.89L773.85 878.89L775.92 885.26Z"/>
<path d="M776.5 890.2L771.08 886.26L773.15 879.89L779.85 879.89L781.92 886.26Z"/>
<path d="M782.5 898.2L777.08 894.26L779.15 887.89L785.85 887.89L787.92 894.26Z"/>
<path d="M788.5 906.2L783.08 902.26L785.15 895.89L791.85 895.89L793.92 902.26Z"/>
<path d="M795.5 902.2L790.08 898.26L792.15 891.89L798.85 891.89L800.92 898.26Z"/>
<path d="M801.5 902.2L796.08 898.26L798.15 891.89L804.85 891.89L806.92 898.26Z"/>
<path d="M807.5 903.2L802.08 899.26L804.15 892.89L810.85 892.89L812.92 899.26Z"/>
<path d="M813.5 889.2L808.08 885.26L810.15 878.89L816.85 878.89L818.92 885.26Z"/>
<path d="M820.5 888.2L815.08 884.26L817.15 877.89L823.85 877.89L825.92 884.26Z"/>
<path d="M826.5 885.2L821.08 881.26L823.15 874.89L829.85 874.89L831.92 881.26Z"/>
<path d="M832.5 886.2L827.08 882.26L829.15 875.89L835.85 875.89L837.92 882.26Z"/>
<path d="M838.5 889.2L833.08 885.26L835.15 878.89L841.85 878.89L843.92 885.26Z"/>
<path d="M844.5 887.2L839.08 883.26L841.15 876.89L847.85 876.89L849.92 883.26Z"/>
<path d="M851.5 885.2L846.08 881.26L848.15 874.89L854.85 874.89L856.92 881.26Z"/>
<path d="M857.5 887.2L852.08 883.26L854.15 876.89L860.85 876.89L862.92 883.26Z"/>
<path d="M863.5 889.2L858.08 885.26L860.15 878.89L866.85 878.89L868.92 885.26Z"/>
<path d="M869.5 886.2L864.08 882.26L866.15 875.89L872.85 875.89L874.92 882.26Z"/>
<path d="M876.5 888.2L871.08 884.26L873.15 877.89L879.85 877.89L881.92 884.26Z"/>
<path d="M882.5 888.2L877.08 884.26L879.15 877.89L885.85 877.89L887.92 884.26Z"/>
<path d="M888.5 890.2L883.08 886.26L885.15 879.89L891.85 879.89L893.92 886.26Z"/>
<path d="M907.5 887.2L902.08 883.26L904.15 876.89L910.85 876.89L912.92 883.26Z"/>
<path d="M925.5 893.2L920.08 889.26L922.15 882.89L928.85 882.89L930.92 889.26Z"/>
<path d="M944.5 868.2L939.08 864.26L941.15 857.89L947.85 857.89L949.92 864.26Z"/>
<path d="M963.5 870.2L958.08 866.26L960.15 859.89L966.85 859.89L968.92 866.26Z"/>
<path d="M981.5 872.2L976.08 868.26L978.15 861.89L984.85 861.89L986.92 868.26Z"/>
<path d="M1000.5 868.2L995.08 864.26L997.15 857.89L1003.85 857.89L1005.92 864.26Z"/>
<path d="M1019.5 861.2L1014.08 857.26L1016.15 850.89L1022.85 850.89L1024.92 857.26Z"/>
<path d="M1037.5 855.2L1032.08 851.26L1034.15 844.89L1040.85 844.89L1042.92 851.26Z"/>
<path d="M1056.5 823.2L1051.08 819.26L1053.15 812.89L1059.85 812.89L1061.92 819.26Z"/>
<path d="M1075.5 633.2L1070.08 629.26L1072.15 622.89L1078.85 622.89L1080.92 629.26Z"/>
<path d="M1093.5 552.2L1088.08 548.26L1090.15 541.89L1096.85 541.89L1098.92 548.26Z"/>
<path d="M1112.5 539.2L1107.08 535.26L1109.15 528.89L1115.85 528.89L1117.92 535.26Z"/>
<path d="M1131.5 614.2L1126.08 610.26L1128.15 603.89L1134.85 603.89L1136.92 610.26Z"/>
<path d="M1149.5 644.2L1144.08 640.26L1146.15 633.89L1152.85 633.89L1154.92 640.26Z"/>
<path d="M1168.5 793.2L1163.08 789.26L1165.15 782.89L1171.85 782.89L1173.92 789.26Z"/>
<path d="M1187.5 858.2L1182.08 854.26L1184.15 847.89L1190.85 847.89L1192.92 854.26Z"/>
<path d="M1205.5 852.2L1200.08 848.26L1202.15 841.89L1208.85 841.89L1210.92 848.26Z"/>
<path d="M1224.5 788.2L1219.08 784.26L1221.15 777.89L1227.85 777.89L1229.92 784.26Z"/>
<path d="M1243.5 812.2L1238.08 808.26L1240.15 801.89L1246.85 801.89L1248.92 808.26Z"/>
<path d="M1261.5 795.2L1256.08 791.26L1258.15 784.89L1264.85 784.89L1266.92 791.26Z"/>
<path d="M1280.5 811.2L1275.08 807.26L1277.15 800.89L1283.85 800.89L1285.92 807.26Z"/>
<path d="M1298.5 822.2L1293.08 818.26L1295.15 811.89L1301.85 811.89L1303.92 818.26Z"/>
<path d="M1317.5 861.2L1312.08 857.26L1314.15 850.89L1320.85 850.89L1322.92 857.26Z"/>
<path d="M1336.5 872.2L1331.08 868.26L1333.15 861.89L1339.85 861.89L1341.92 868.26Z"/>
<path d="M1354.5 859.2L1349.08 855.26L1351.15 848.89L1357.85 848.89L1359.92 855.26Z"/>
<path d="M1373.5 847.2L1368.08 843.26L1370.15 836.89L1376.85 836.89L1378.92 843.26Z"/>
<path d="M1392.5 858.2L1387.08 854.26L1389.15 847.89L1395.85 847.89L1397.92 854.26Z"/>
<path d="M1410.5 844.2L1405.08 840.26L1407.15 833.89L1413.85 833.89L1415.92 840.26Z"/>
<path d="M1429.5 839.2L1424.08 835.26L1426.15 828.89L1432.85 828.89L1434.92 835.26Z"/>
<path d="M1448.5 834.2L1443.08 830.26L1445.15 823.89L1451.85 823.89L1453.92 830.26Z"/>
</g>
<g stroke="#ffa500" stroke-width="1.15" fill="none">
<path d="M143 723.5H154M148.5 718V729M143.2 718.2L153.8 728.8M143.2 728.8L153.8 718.2"/>
<path d="M149 711.5H160M154.5 706V717M149.2 706.2L159.8 716.8M149.2 716.8L159.8 706.2"/>
<path d="M155 697.5H166M160.5 692V703M155.2 692.2L165.8 702.8M155.2 702.8L165.8 692.2"/>
<path d="M161 668.5H172M166.5 663V674M161.2 663.2L171.8 673.8M161.2 673.8L171.8 663.2"/>
<path d="M168 665.5H179M173.5 660V671M168.2 660.2L178.8 670.8M168.2 670.8L178.8 660.2"/>
<path d="M174 667.5H185M179.5 662V673M174.2 662.2L184.8 672.8M174.2 672.8L184.8 662.2"/>
<path d="M180 669.5H191M185.5 664V675M180.2 664.2L190.8 674.8M180.2 674.8L190.8 664.2"/>
<path d="M186 679.5H197M191.5 674V685M186.2 674.2L196.8 684.8M186.2 684.8L196.8 674.2"/>
<path d="M193 705.5H204M198.5 700V711M193.2 700.2L203.8 710.8M193.2 710.8L203.8 700.2"/>
<path d="M199 715.5H210M204.5 710V721M199.2 710.2L209.8 720.8M199.2 720.8L209.8 710.2"/>
<path d="M205 731.5H216M210.5 726V737M205.2 726.2L215.8 736.8M205.2 736.8L215.8 726.2"/>
<path d="M211 757.5H222M216.5 752V763M211.2 752.2L221.8 762.8M211.2 762.8L221.8 752.2"/>
<path d="M217 773.5H228M222.5 768V779M217.2 768.2L227.8 778.8M217.2 778.8L227.8 768.2"/>
<path d="M224 797.5H235M229.5 792V803M224.2 792.2L234.8 802.8M224.2 802.8L234.8 792.2"/>
<path d="M230 815.5H241M235.5 810V821M230.2 810.2L240.8 820.8M230.2 820.8L240.8 810.2"/>
<path d="M236 815.5H247M241.5 810V821M236.2 810.2L246.8 820.8M236.2 820.8L246.8 810.2"/>
<path d="M242 815.5H253M247.5 810V821M242.2 810.2L252.8 820.8M242.2 820.8L252.8 810.2"/>
<path d="M249 811.5H260M254.5 806V817M249.2 806.2L259.8 816.8M249.2 816.8L259.8 806.2"/>
<path d="M255 827.5H266M260.5 822V833M255.2 822.2L265.8 832.8M255.2 832.8L265.8 822.2"/>
<path d="M261 829.5H272M266.5 824V835M261.2 824.2L271.8 834.8M261.2 834.8L271.8 824.2"/>
<path d="M267 835.5H278M272.5 830V841M267.2 830.2L277.8 840.8M267.2 840.8L277.8 830.2"/>
<path d="M273 843.5H284M278.5 838V849M273.2 838.2L283.8 848.8M273.2 848.8L283.8 838.2"/>
<path d="M280 851.5H291M285.5 846V857M280.2 846.2L290.8 856.8M280.2 856.8L290.8 846.2"/>
<path d="M286 851.5H297M291.5 846V857M286.2 846.2L296.8 856.8M286.2 856.8L296.8 846.2"/>
<path d="M292 853.5H303M297.5 848V859M292.2 848.2L302.8 858.8M292.2 858.8L302.8 848.2"/>
<path d="M298 853.5H309M303.5 848V859M298.2 848.2L308.8 858.8M298.2 858.8L308.8 848.2"/>
<path d="M304 851.5H315M309.5 846V857M304.2 846.2L314.8 856.8M304.2 856.8L314.8 846.2"/>
<path d="M311 851.5H322M316.5 846V857M311.2 846.2L321.8 856.8M311.2 856.8L321.8 846.2"/>
<path d="M317 841.5H328M322.5 836V847M317.2 836.2L327.8 846.8M317.2 846.8L327.8 836.2"/>
<path d="M323 831.5H334M328.5 826V837M323.2 826.2L333.8 836.8M323.2 836.8L333.8 826.2"/>
<path d="M329 818.5H340M334.5 813V824M329.2 813.2L339.8 823.8M329.2 823.8L339.8 813.2"/>
<path d="M336 812.5H347M341.5 807V818M336.2 807.2L346.8 817.8M336.2 817.8L346.8 807.2"/>
<path d="M342 813.5H353M347.5 808V819M342.2 808.2L352.8 818.8M342.2 818.8L352.8 808.2"/>
<path d="M348 809.5H359M353.5 804V815M348.2 804.2L358.8 814.8M348.2 814.8L358.8 804.2"/>
<path d="M354 809.5H365M359.5 804V815M354.2 804.2L364.8 814.8M354.2 814.8L364.8 804.2"/>
<path d="M360 807.5H371M365.5 802V813M360.2 802.2L370.8 812.8M360.2 812.8L370.8 802.2"/>
<path d="M379 777.5H390M384.5 772V783M379.2 772.2L389.8 782.8M379.2 782.8L389.8 772.2"/>
<path d="M398 691.5H409M403.5 686V697M398.2 686.2L408.8 696.8M398.2 696.8L408.8 686.2"/>
<path d="M416 745.5H427M421.5 740V751M416.2 740.2L426.8 750.8M416.2 750.8L426.8 740.2"/>
<path d="M435 787.5H446M440.5 782V793M435.2 782.2L445.8 792.8M435.2 792.8L445.8 782.2"/>
<path d="M454 805.5H465M459.5 800V811M454.2 800.2L464.8 810.8M454.2 810.8L464.8 800.2"/>
<path d="M472 825.5H483M477.5 820V831M472.2 820.2L482.8 830.8M472.2 830.8L482.8 820.2"/>
<path d="M491 829.5H502M496.5 824V835M491.2 824.2L501.8 834.8M491.2 834.8L501.8 824.2"/>
<path d="M510 849.5H521M515.5 844V855M510.2 844.2L520.8 854.8M510.2 854.8L520.8 844.2"/>
<path d="M528 876.5H539M533.5 871V882M528.2 871.2L538.8 881.8M528.2 881.8L538.8 871.2"/>
<path d="M547 859.5H558M552.5 854V865M547.2 854.2L557.8 864.8M547.2 864.8L557.8 854.2"/>
<path d="M566 868.5H577M571.5 863V874M566.2 863.2L576.8 873.8M566.2 873.8L576.8 863.2"/>
<path d="M584 872.5H595M589.5 867V878M584.2 867.2L594.8 877.8M584.2 877.8L594.8 867.2"/>
<path d="M603 864.5H614M608.5 859V870M603.2 859.2L613.8 869.8M603.2 869.8L613.8 859.2"/>
<path d="M622 845.5H633M627.5 840V851M622.2 840.2L632.8 850.8M622.2 850.8L632.8 840.2"/>
<path d="M640 855.5H651M645.5 850V861M640.2 850.2L650.8 860.8M640.2 860.8L650.8 850.2"/>
<path d="M659 859.5H670M664.5 854V865M659.2 854.2L669.8 864.8M659.2 864.8L669.8 854.2"/>
<path d="M678 846.5H689M683.5 841V852M678.2 841.2L688.8 851.8M678.2 851.8L688.8 841.2"/>
<path d="M696 773.5H707M701.5 768V779M696.2 768.2L706.8 778.8M696.2 778.8L706.8 768.2"/>
<path d="M715 829.5H726M720.5 824V835M715.2 824.2L725.8 834.8M715.2 834.8L725.8 824.2"/>
<path d="M734 859.5H745M739.5 854V865M734.2 854.2L744.8 864.8M734.2 864.8L744.8 854.2"/>
<path d="M752 859.5H763M757.5 854V865M752.2 854.2L762.8 864.8M752.2 864.8L762.8 854.2"/>
<path d="M771 861.5H782M776.5 856V867M771.2 856.2L781.8 866.8M771.2 866.8L781.8 856.2"/>
<path d="M790 869.5H801M795.5 864V875M790.2 864.2L800.8 874.8M790.2 874.8L800.8 864.2"/>
<path d="M808 869.5H819M813.5 864V875M808.2 864.2L818.8 874.8M808.2 874.8L818.8 864.2"/>
<path d="M827 875.5H838M832.5 870V881M827.2 870.2L837.8 880.8M827.2 880.8L837.8 870.2"/>
<path d="M846 837.5H857M851.5 832V843M846.2 832.2L856.8 842.8M846.2 842.8L856.8 832.2"/>
<path d="M864 845.5H875M869.5 840V851M864.2 840.2L874.8 850.8M864.2 850.8L874.8 840.2"/>
<path d="M883 853.5H894M888.5 848V859M883.2 848.2L893.8 858.8M883.2 858.8L893.8 848.2"/>
<path d="M902 849.5H913M907.5 844V855M902.2 844.2L912.8 854.8M902.2 854.8L912.8 844.2"/>
<path d="M920 855.5H931M925.5 850V861M920.2 850.2L930.8 860.8M920.2 860.8L930.8 850.2"/>
<path d="M939 865.5H950M944.5 860V871M939.2 860.2L949.8 870.8M939.2 870.8L949.8 860.2"/>
<path d="M958 867.5H969M963.5 862V873M958.2 862.2L968.8 872.8M958.2 872.8L968.8 862.2"/>
<path d="M976 875.5H987M981.5 870V881M976.2 870.2L986.8 880.8M976.2 880.8L986.8 870.2"/>
<path d="M995 827.5H1006M1000.5 822V833M995.2 822.2L1005.8 832.8M995.2 832.8L1005.8 822.2"/>
<path d="M1014 825.5H1025M1019.5 820V831M1014.2 820.2L1024.8 830.8M1014.2 830.8L1024.8 820.2"/>
<path d="M1032 829.5H1043M1037.5 824V835M1032.2 824.2L1042.8 834.8M1032.2 834.8L1042.8 824.2"/>
<path d="M1051 787.5H1062M1056.5 782V793M1051.2 782.2L1061.8 792.8M1051.2 792.8L1061.8 782.2"/>
<path d="M1070 753.5H1081M1075.5 748V759M1070.2 748.2L1080.8 758.8M1070.2 758.8L1080.8 748.2"/>
<path d="M1088 729.5H1099M1093.5 724V735M1088.2 724.2L1098.8 734.8M1088.2 734.8L1098.8 724.2"/>
<path d="M1107 737.5H1118M1112.5 732V743M1107.2 732.2L1117.8 742.8M1107.2 742.8L1117.8 732.2"/>
<path d="M1126 723.5H1137M1131.5 718V729M1126.2 718.2L1136.8 728.8M1126.2 728.8L1136.8 718.2"/>
<path d="M1144 733.5H1155M1149.5 728V739M1144.2 728.2L1154.8 738.8M1144.2 738.8L1154.8 728.2"/>
<path d="M1163 769.5H1174M1168.5 764V775M1163.2 764.2L1173.8 774.8M1163.2 774.8L1173.8 764.2"/>
<path d="M1182 811.5H1193M1187.5 806V817M1182.2 806.2L1192.8 816.8M1182.2 816.8L1192.8 806.2"/>
<path d="M1200 813.5H1211M1205.5 808V819M1200.2 808.2L1210.8 818.8M1200.2 818.8L1210.8 808.2"/>
<path d="M1219 811.5H1230M1224.5 806V817M1219.2 806.2L1229.8 816.8M1219.2 816.8L1229.8 806.2"/>
<path d="M1238 809.5H1249M1243.5 804V815M1238.2 804.2L1248.8 814.8M1238.2 814.8L1248.8 804.2"/>
<path d="M1256 823.5H1267M1261.5 818V829M1256.2 818.2L1266.8 828.8M1256.2 828.8L1266.8 818.2"/>
<path d="M1275 795.5H1286M1280.5 790V801M1275.2 790.2L1285.8 800.8M1275.2 800.8L1285.8 790.2"/>
<path d="M1293 743.5H1304M1298.5 738V749M1293.2 738.2L1303.8 748.8M1293.2 748.8L1303.8 738.2"/>
<path d="M1312 782.5H1323M1317.5 777V788M1312.2 777.2L1322.8 787.8M1312.2 787.8L1322.8 777.2"/>
<path d="M1331 817.5H1342M1336.5 812V823M1331.2 812.2L1341.8 822.8M1331.2 822.8L1341.8 812.2"/>
<path d="M1368 817.5H1379M1373.5 812V823M1368.2 812.2L1378.8 822.8M1368.2 822.8L1378.8 812.2"/>
<path d="M1405 837.5H1416M1410.5 832V843M1405.2 832.2L1415.8 842.8M1405.2 842.8L1415.8 832.2"/>
<path d="M1443 799.5H1454M1448.5 794V805M1443.2 794.2L1453.8 804.8M1443.2 804.8L1453.8 794.2"/>
</g>
<g fill="#00ffff">
<path d="M136.7 870L142.5 880.5L148.3 870Z"/>
<path d="M142.7 738L148.5 748.5L154.3 738Z"/>
<path d="M148.7 724L154.5 734.5L160.3 724Z"/>
<path d="M154.7 688L160.5 698.5L166.3 688Z"/>
<path d="M160.7 701L166.5 711.5L172.3 701Z"/>
<path d="M167.7 681L173.5 691.5L179.3 681Z"/>
<path d="M173.7 637L179.5 647.5L185.3 637Z"/>
<path d="M179.7 612L185.5 622.5L191.3 612Z"/>
<path d="M185.7 549L191.5 559.5L197.3 549Z"/>
<path d="M192.7 592L198.5 602.5L204.3 592Z"/>
<path d="M198.7 586L204.5 596.5L210.3 586Z"/>
<path d="M204.7 664L210.5 674.5L216.3 664Z"/>
<path d="M210.7 668L216.5 678.5L222.3 668Z"/>
<path d="M216.7 785L222.5 795.5L228.3 785Z"/>
<path d="M223.7 771L229.5 781.5L235.3 771Z"/>
<path d="M229.7 780L235.5 790.5L241.3 780Z"/>
<path d="M235.7 848L241.5 858.5L247.3 848Z"/>
<path d="M241.7 837L247.5 847.5L253.3 837Z"/>
<path d="M248.7 848L254.5 858.5L260.3 848Z"/>
<path d="M254.7 872L260.5 882.5L266.3 872Z"/>
<path d="M260.7 870L266.5 880.5L272.3 870Z"/>
<path d="M266.7 870L272.5 880.5L278.3 870Z"/>
<path d="M272.7 891L278.5 901.5L284.3 891Z"/>
<path d="M279.7 883L285.5 893.5L291.3 883Z"/>
<path d="M285.7 851L291.5 861.5L297.3 851Z"/>
<path d="M291.7 890L297.5 900.5L303.3 890Z"/>
<path d="M297.7 841L303.5 851.5L309.3 841Z"/>
<path d="M303.7 811L309.5 821.5L315.3 811Z"/>
<path d="M310.7 834L316.5 844.5L322.3 834Z"/>
<path d="M316.7 784L322.5 794.5L328.3 784Z"/>
<path d="M322.7 818L328.5 828.5L334.3 818Z"/>
<path d="M328.7 819L334.5 829.5L340.3 819Z"/>
<path d="M335.7 814L341.5 824.5L347.3 814Z"/>
<path d="M341.7 821L347.5 831.5L353.3 821Z"/>
<path d="M347.7 729L353.5 739.5L359.3 729Z"/>
<path d="M353.7 664L359.5 674.5L365.3 664Z"/>
<path d="M359.7 635L365.5 645.5L371.3 635Z"/>
<path d="M366.7 628L372.5 638.5L378.3 628Z"/>
<path d="M372.7 615L378.5 625.5L384.3 615Z"/>
<path d="M378.7 562L384.5 572.5L390.3 562Z"/>
<path d="M384.7 589L390.5 599.5L396.3 589Z"/>
<path d="M391.7 625L397.5 635.5L403.3 625Z"/>
<path d="M397.7 617L403.5 627.5L409.3 617Z"/>
<path d="M403.7 590L409.5 600.5L415.3 590Z"/>
<path d="M409.7 582L415.5 592.5L421.3 582Z"/>
<path d="M415.7 592L421.5 602.5L427.3 592Z"/>
<path d="M422.7 589L428.5 599.5L434.3 589Z"/>
<path d="M428.7 616L434.5 626.5L440.3 616Z"/>
<path d="M434.7 629L440.5 639.5L446.3 629Z"/>
<path d="M440.7 670L446.5 680.5L452.3 670Z"/>
<path d="M447.7 721L453.5 731.5L459.3 721Z"/>
<path d="M453.7 741L459.5 751.5L465.3 741Z"/>
<path d="M459.7 782L465.5 792.5L471.3 782Z"/>
<path d="M465.7 842L471.5 852.5L477.3 842Z"/>
<path d="M471.7 870L477.5 880.5L483.3 870Z"/>
<path d="M478.7 881L484.5 891.5L490.3 881Z"/>
<path d="M484.7 873L490.5 883.5L496.3 873Z"/>
<path d="M490.7 882L496.5 892.5L502.3 882Z"/>
<path d="M496.7 887L502.5 897.5L508.3 887Z"/>
<path d="M503.7 887L509.5 897.5L515.3 887Z"/>
<path d="M509.7 877L515.5 887.5L521.3 877Z"/>
<path d="M515.7 883L521.5 893.5L527.3 883Z"/>
<path d="M521.7 883L527.5 893.5L533.3 883Z"/>
<path d="M527.7 865L533.5 875.5L539.3 865Z"/>
<path d="M534.7 874L540.5 884.5L546.3 874Z"/>
<path d="M540.7 873L546.5 883.5L552.3 873Z"/>
<path d="M546.7 874L552.5 884.5L558.3 874Z"/>
<path d="M552.7 869L558.5 879.5L564.3 869Z"/>
<path d="M559.7 872L565.5 882.5L571.3 872Z"/>
<path d="M565.7 877L571.5 887.5L577.3 877Z"/>
<path d="M571.7 870L577.5 880.5L583.3 870Z"/>
<path d="M577.7 871L583.5 881.5L589.3 871Z"/>
<path d="M583.7 872L589.5 882.5L595.3 872Z"/>
</g>
<rect x="110.5" y="84.5" width="1344" height="826" stroke="#000" stroke-width="1" fill="none"/>
<text x="1338.5" y="117.7" text-anchor="end">ECMWF</text>
<g fill="#0000cd"><rect x="1384" y="105" width="9" height="9"/></g>
<text x="1338.5" y="145.7" text-anchor="end">HRRR</text>
<g fill="#006400"><circle cx="1388.5" cy="137.5" r="5.6"/></g>
<text x="1338.5" y="173.7" text-anchor="end">NAM 3 km</text>
<g fill="#ff0000"><path d="M1382.7 170L1388.5 159.5L1394.3 170Z"/></g>
<text x="1338.5" y="201.7" text-anchor="end">NAM 12 km</text>
<g fill="#000000"><path d="M1382.7 189L1388.5 199.5L1394.3 189Z"/></g>
<text x="1338.5" y="229.7" text-anchor="end">GFS 0.125°</text>
<g fill="#c0c0c0"><path d="M1382.85 221.5L1388.5 215.85L1394.15 221.5L1388.5 227.15Z"/></g>
<text x="1338.5" y="257.7" text-anchor="end">GFS 0.250°</text>
<g fill="#87ceeb"><path d="M1388.5 255.2L1383.08 251.26L1385.15 244.89L1391.85 244.89L1393.92 251.26Z"/></g>
<text x="1338.5" y="285.7" text-anchor="end">NBM</text>
<g stroke="#ffa500" stroke-width="1.15" fill="none"><path d="M1383 277.5H1394M1388.5 272V283M1383.2 272.2L1393.8 282.8M1383.2 282.8L1393.8 272.2"/></g>
<text x="1338.5" y="313.7" text-anchor="end">CANSAC WRF</text>
<g fill="#00ffff"><path d="M1382.7 301L1388.5 311.5L1394.3 301Z"/></g>
</svg></body></html>
